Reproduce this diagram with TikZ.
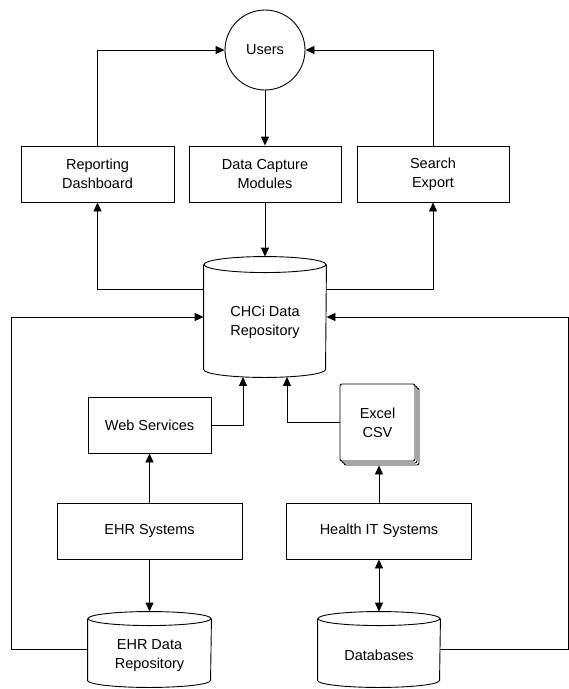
\documentclass[tikz,border=0pt]{standalone}
\usepackage{fontspec}
\setmainfont{Liberation Sans}
\usetikzlibrary{arrows.meta,calc}
\newcommand\drawcyl[3]{%
  \draw[fill=white] ($(#1.north west)+(0,#3)$) -- ($(#1.south west)+(0,-#3)$)
    arc[start angle=180,end angle=360,x radius=#2pt,y radius=#3pt]
    -- ($(#1.north east)+(0,#3)$);
  \draw ($(#1.north)+(0,#3)$) ellipse[x radius=#2pt,y radius=#3pt];
}
\begin{document}
\begin{tikzpicture}[x=1pt,y=-1pt,line width=0.9pt,
  lbl/.style={font=\fontsize{14.5}{19}\selectfont, align=center, inner sep=0pt},
  box/.style={lbl, draw, rectangle, minimum width=#1, minimum height=56pt},
  cylnode/.style={rectangle, inner sep=0pt},
  pagesheet/.style={draw, fill=white, rounded corners=2pt},
  arr/.style={-{Triangle[length=9pt,width=8pt]}},
  darr/.style={{Triangle[length=9pt,width=8pt]}-{Triangle[length=9pt,width=8pt]}}]
\useasboundingbox (0,0) rectangle (569,689);
% nodes
\node[lbl, circle, draw, minimum size=80pt] (users) at (265,50) {Users};
\node[box=153pt] (rep) at (97.5,174) {Reporting\\Dashboard};
\node[box=152pt] (dcm) at (265,174) {Data Capture\\Modules};
\node[box=152pt] (se) at (433,174) {Search\\Export};
\node[cylnode, minimum width=122pt, minimum height=120pt] (chci) at (265,317) {};
\drawcyl{chci}{61}{8}
\node[lbl] (chcit) at ($(chci)+(0,5.5)$) {CHCi Data\\Repository};
\node[box=123pt] (web) at (149.5,425) {Web Services};
% stacked sheets behind Excel/CSV
\draw[pagesheet] (344,388) rectangle (419,465);
\draw[pagesheet] (342,386) rectangle (417,463);
\node[lbl, pagesheet, minimum width=75pt, minimum height=77pt] (excel) at (377.5,422.5) {Excel\\CSV};
\node[box=185pt] (ehrsys) at (149.5,531) {EHR Systems};
\node[box=185pt] (hit) at (379,531) {Health IT Systems};
\node[cylnode, minimum width=123pt, minimum height=75pt] (ehrdb) at (149.5,649.5) {};
\drawcyl{ehrdb}{61.5}{7}
\node[lbl] (ehrdbt) at ($(ehrdb)+(0,6.5)$) {EHR Data\\Repository};
\node[cylnode, minimum width=122pt, minimum height=75pt] (db) at (379,649.5) {};
\drawcyl{db}{61}{7}
\node[lbl] (dbt) at ($(db)+(0,5.5)$) {Databases};
% coordinates
\coordinate (cl) at ($(chci.north west)+(0,33)$);
\coordinate (cr) at ($(chci.north east)+(0,33)$);
\coordinate (lx) at (11,0);
\coordinate (rx) at (568,0);
% connectors
\draw[arr] (users) -- (dcm);
\draw[arr] (dcm) -- (chci);
\draw[arr] (rep.north) |- (users.west);
\draw[arr] (se.north) |- (users.east);
\draw[arr] (cl) -| (rep.south);
\draw[arr] (cr) -| (se.south);
\draw[arr] (web.east) -| ($(chci.south)+(-22,-0.5)$);
\draw[arr] (excel.west) -| ($(chci.south)+(22,-0.5)$);
\draw[arr] (ehrsys) -- (web);
\draw[arr] (ehrsys) -- (ehrdb);
\draw[arr] (hit.north) -- ($(hit.north |- excel.south)+(0,4)$);
\draw[darr] (hit) -- (db);
\draw[arr] (ehrdb.west) -| (lx |- chci) -- (chci.west);
\draw[arr] (db.east) -| (rx |- chci) -- (chci.east);
\end{tikzpicture}
\end{document}
